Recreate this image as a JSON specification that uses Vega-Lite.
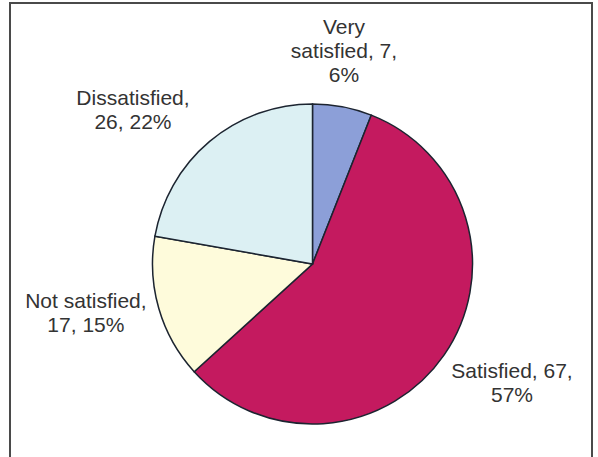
{
  "$schema": "https://vega.github.io/schema/vega-lite/v6.json",
  "autosize": {"type": "none"},
  "width": 582,
  "height": 522,
  "padding": {"left": 10, "top": 3, "right": 6, "bottom": -68},
  "background": "white",
  "config": {
    "view": {"stroke": null},
    "text": {"font": "Liberation Sans", "fontSize": 21, "fill": "#333333", "lineBreak": "\n", "lineHeight": 24, "align": "center", "baseline": "middle"}
  },
  "data": {
    "values": [
      {"category": "Very satisfied", "count": 7, "label": "Very\nsatisfied, 7,\n6%"},
      {"category": "Satisfied", "count": 67, "label": "Satisfied, 67,\n57%"},
      {"category": "Not satisfied", "count": 17, "label": "Not satisfied,\n17, 15%"},
      {"category": "Dissatisfied", "count": 26, "label": "Dissatisfied,\n26, 22%"}
    ]
  },
  "layer": [
    {
      "mark": {"type": "rect", "filled": false, "stroke": "#4a4a4a", "strokeWidth": 2},
      "encoding": {}
    },
    {
      "mark": {"type": "arc", "radius": 160, "xOffset": 11.5, "stroke": "#1c2430", "strokeWidth": 1.5},
      "encoding": {
        "theta": {"field": "count", "type": "quantitative", "stack": true},
        "order": {"field": "category", "sort": "descending"},
        "color": {
          "field": "category",
          "type": "nominal",
          "scale": {
            "domain": ["Very satisfied", "Satisfied", "Not satisfied", "Dissatisfied"],
            "range": ["#8c9fd8", "#c41a5f", "#fefbdb", "#dcf0f3"]
          },
          "legend": null
        }
      }
    },
    {
      "mark": {"type": "text", "radius": 230, "xOffset": 11.5, "dx": -11.5, "dy": -10},
      "encoding": {
        "theta": {"field": "count", "type": "quantitative", "stack": true},
        "order": {"field": "category", "sort": "descending"},
        "text": {"condition": {"test": "datum.category === 'Very satisfied'", "field": "label"}, "value": ""}
      }
    },
    {
      "mark": {"type": "text", "radius": 230, "xOffset": 11.5, "dx": -31.7, "dy": 11.2},
      "encoding": {
        "theta": {"field": "count", "type": "quantitative", "stack": true},
        "order": {"field": "category", "sort": "descending"},
        "text": {"condition": {"test": "datum.category === 'Dissatisfied'", "field": "label"}, "value": ""}
      }
    },
    {
      "mark": {"type": "text", "radius": 230, "xOffset": 11.5, "dx": -5.7, "dy": -25.7},
      "encoding": {
        "theta": {"field": "count", "type": "quantitative", "stack": true},
        "order": {"field": "category", "sort": "descending"},
        "text": {"condition": {"test": "datum.category === 'Not satisfied'", "field": "label"}, "value": ""}
      }
    },
    {
      "mark": {"type": "text", "radius": 230, "xOffset": 11.5, "dx": 10.2, "dy": -23.1},
      "encoding": {
        "theta": {"field": "count", "type": "quantitative", "stack": true},
        "order": {"field": "category", "sort": "descending"},
        "text": {"condition": {"test": "datum.category === 'Satisfied'", "field": "label"}, "value": ""}
      }
    }
  ]
}
